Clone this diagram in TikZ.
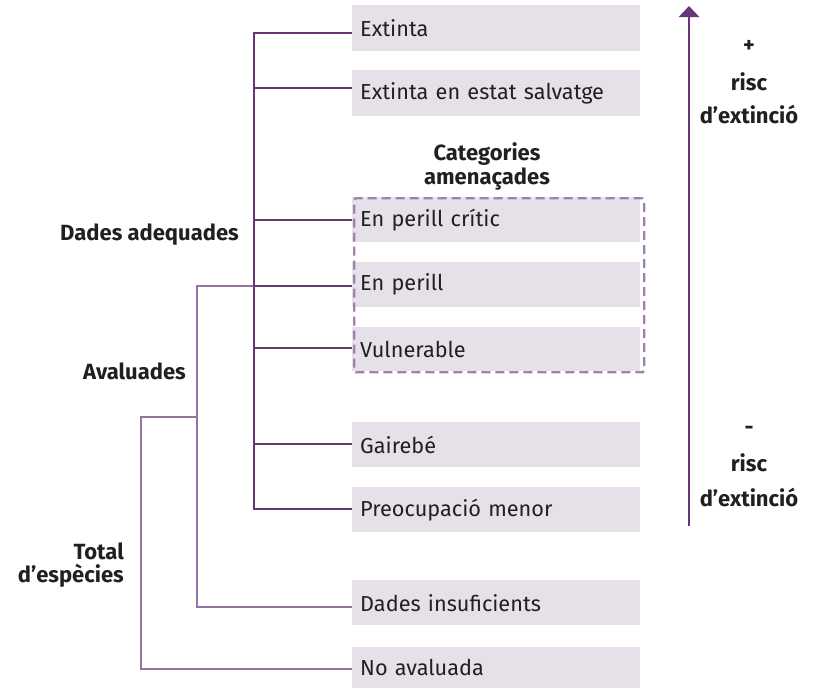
\documentclass[tikz,border=0pt]{standalone}
\usepackage{fontspec}
\setmainfont{Fira Sans}
\usetikzlibrary{arrows.meta}
\definecolor{dk}{HTML}{6A3578}
\definecolor{lt}{HTML}{9572A3}
\definecolor{bx}{HTML}{E6E1E9}
\definecolor{tx}{HTML}{231F20}
\tikzset{
  catbox/.style={fill=bx, anchor=north west, minimum width=288pt, text width=272pt, inner xsep=8pt, inner ysep=0pt, align=left, font=\fontsize{21.7}{24}\selectfont, text=tx},
  lbl/.style={font=\fontsize{22}{23.5}\selectfont\bfseries, text=tx, inner sep=0pt},
  dkline/.style={draw=dk, line width=2.7pt},
  ltline/.style={draw=lt, line width=2.5pt},
  frame/.style={draw=lt!90, dashed, dash pattern=on 9pt off 5pt, line width=2.4pt, rounded corners=1.5pt, inner sep=0pt, anchor=north west},
}
\begin{document}
\begin{tikzpicture}[x=1pt,y=-1pt]
\useasboundingbox (0,0) rectangle (814,688);
% boxes
\node[catbox, minimum height=46pt] (ext) at (352,5) {Extinta};
\node[catbox, minimum height=46pt] (ew) at (352,70) {Extinta en estat salvatge};
\node[catbox, minimum height=45pt] (cr) at (352,197) {En perill crític};
\node[catbox, minimum height=45pt] (en) at (352,262) {En perill};
\node[catbox, minimum height=44pt] (vu) at (352,327) {Vulnerable};
\node[catbox, minimum height=45pt] (nt) at (352,422) {Gairebé};
\node[catbox, minimum height=45pt] (lc) at (352,487) {Preocupació menor};
\node[catbox, minimum height=45pt] (dd) at (352,580) {Dades insuficients};
\node[catbox, minimum height=41pt] (ne) at (352,647) {No avaluada};
% threatened frame
\node[frame, minimum width=290pt, minimum height=174pt] (thr) at (353,197) {};
\node[lbl, align=center] (thrl) at (487,166.5) {Categories\\amenaçades};
% junctions dark
\coordinate (d1) at (254,33);
\coordinate (d2) at (254,88);
\coordinate (d3) at (254,220);
\coordinate (d4) at (254,286);
\coordinate (d5) at (254,348);
\coordinate (d6) at (254,444);
\coordinate (d7) at (254,509);
% junctions light
\coordinate (a1) at (197,286);
\coordinate (a2) at (197,607);
\coordinate (a3) at (197,417);
\coordinate (t1) at (141,417);
\coordinate (t2) at (141,669);
% light connectors
\draw[ltline] (d4) -- (a1) -- (a2) -- (a2 -| dd.west);
\draw[ltline] (a3) -- (t1) -- (t2) -- (t2 -| ne.west);
% dark connectors
\draw[dkline] (d1 -| ext.west) -- (d1) -- (d7) -- (d7 -| lc.west);
\draw[dkline] (d2) -- (d2 -| ew.west);
\draw[dkline] (d3) -- (d3 -| cr.west);
\draw[dkline] (d4) -- (d4 -| en.west);
\draw[dkline] (d5) -- (d5 -| vu.west);
\draw[dkline] (d6) -- (d6 -| nt.west);
% left labels
\node[lbl, anchor=east] (da) at (239,235) {Dades adequades};
\node[lbl, anchor=east] (av) at (186,371) {Avaluades};
\node[lbl, anchor=east, align=right] (tot) at (124,565) {Total\\d’espècies};
% arrow
\coordinate (arb) at (689,526);
\coordinate (art) at (689,6);
\draw[draw=dk, line width=2.7pt, -{Triangle[width=20pt,length=11pt]}] (arb) -- (art);
\node[lbl] (p1) at (749,46) {+};
\node[lbl] (p2) at (749,82) {risc};
\node[lbl] (p3) at (749,115) {d’extinció};
\node[lbl] (m1) at (749,430) {-};
\node[lbl] (m2) at (749,463) {risc};
\node[lbl] (m3) at (749,497) {d’extinció};
\end{tikzpicture}
\end{document}
